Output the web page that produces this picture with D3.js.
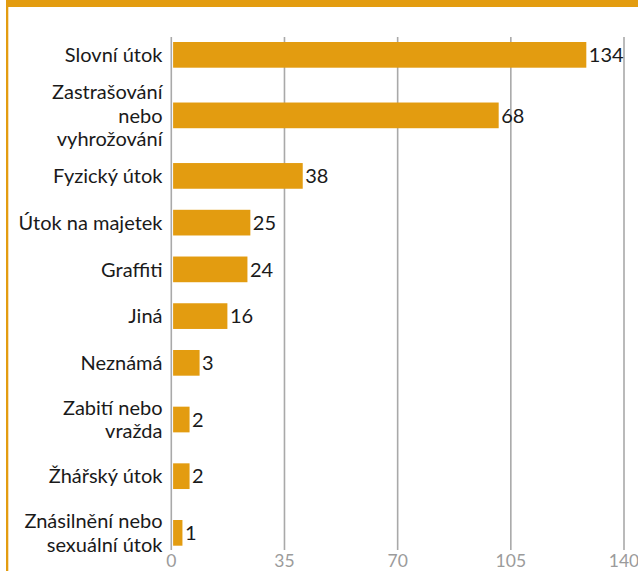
<!DOCTYPE html>
<html>
<head>
<meta charset="utf-8">
<script src="https://cdn.jsdelivr.net/npm/d3@7/dist/d3.min.js"></script>
<style>
  html, body { margin: 0; padding: 0; background: #fff; }
  svg { display: block; }
</style>
</head>
<body>
<svg id="chart" width="638" height="571"></svg>
<script>
// ---- data ----
const categories = [
  "Slovní útok",
  "Zastrašování\nnebo\nvyhrožování",
  "Fyzický útok",
  "Útok na majetek",
  "Graffiti",
  "Jiná",
  "Neznámá",
  "Zabití nebo\nvražda",
  "Žhářský útok",
  "Znásilnění nebo\nsexuální útok"
];
// printed value labels
const counts = [134, 68, 38, 25, 24, 16, 3, 2, 2, 1];
// bar lengths as drawn in the picture, read against the axis
const barLengths = [128.5, 101.4, 40.8, 24.6, 23.7, 17.5, 8.9, 5.8, 5.8, 3.6];
const tickValues = [0, 35, 70, 105, 140];

// ---- layout ----
const W = 638, H = 571;
const accent = "#E39C10";
const svg = d3.select("#chart");

// frame accents
svg.append("rect").attr("x", 6).attr("y", 0).attr("width", W - 6).attr("height", 7).attr("fill", accent);
svg.append("rect").attr("x", 6).attr("y", 0).attr("width", 2.3).attr("height", H).attr("fill", accent);

const x = d3.scaleLinear().domain([0, 140]).range([170.8, 623.5]);

// rows: height depends on number of label lines
const lines = categories.map(c => c.split("\n"));
const rowUnit = [0, 1, 1.425, 1.59];
const centersU = [];
let acc = 0;
lines.forEach((l, i) => {
  if (i > 0) acc += (rowUnit[lines[i - 1].length] + rowUnit[l.length]) / 2;
  centersU.push(acc);
});
const y = d3.scaleLinear().domain([0, acc]).range([54.85, 532.85]);
const barH = 25.7;

// grid + axis
const axis = d3.axisBottom(x).tickValues(tickValues).tickSize(550 - 37).tickPadding(4);
const gAxis = svg.append("g").attr("transform", "translate(0,37)").call(axis);
gAxis.select(".domain").remove();
gAxis.selectAll(".tick line").attr("stroke", "#a9a9a9").attr("stroke-width", 1.6);
gAxis.selectAll(".tick text")
  .attr("fill", "#9b9b9b")
  .attr("font-family", "Lato, 'Open Sans', sans-serif")
  .attr("font-size", 17.5)
  .attr("dy", "0.72em");

// bars
const rows = svg.append("g").selectAll("g").data(categories).join("g");
rows.append("rect")
  .attr("x", x(0) + 2.3)
  .attr("y", (d, i) => y(centersU[i]) - barH / 2)
  .attr("width", (d, i) => x(barLengths[i]) - x(0) - 2.3)
  .attr("height", barH)
  .attr("fill", accent);

// value labels
rows.append("text")
  .attr("x", (d, i) => x(barLengths[i]) + 2.5)
  .attr("y", (d, i) => y(centersU[i]))
  .attr("dy", "0.36em")
  .attr("font-family", "Lato, 'Open Sans', sans-serif")
  .attr("font-size", 20)
  .attr("fill", "#1a1a1a")
  .text((d, i) => counts[i]);

// category labels
const lh = 23.5;
rows.append("text")
  .attr("text-anchor", "end")
  .attr("font-family", "Lato, 'Open Sans', sans-serif")
  .attr("font-size", 20)
  .attr("fill", "#1a1a1a")
  .each(function (d, i) {
    const ls = lines[i];
    const t = d3.select(this);
    const cy = y(centersU[i]);
    ls.forEach((s, k) => {
      t.append("tspan")
        .attr("x", 162.5)
        .attr("y", cy + (k - (ls.length - 1) / 2) * lh)
        .attr("dy", "0.36em")
        .text(s);
    });
  });
</script>
</body>
</html>
